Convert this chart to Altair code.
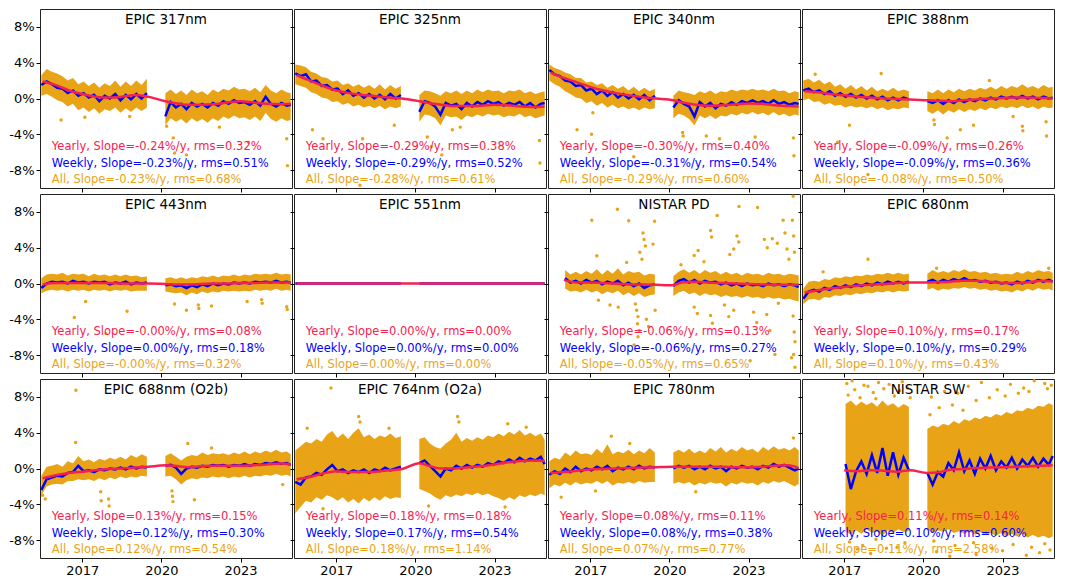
import numpy as np
import pandas as pd
import altair as alt

RED = "#f5214f"
BLUE = "#0000ff"
ORANGE = "#e9a317"
FONT = "DejaVu Sans"

# time grid (decimal years) for the weekly line and the envelope of all points
T = [2015.45, 2015.65, 2015.85, 2016.05, 2016.25, 2016.45, 2016.65, 2016.85, 2017.05, 2017.25, 2017.45,
     2017.65, 2017.85, 2018.05, 2018.25, 2018.45, 2018.65, 2018.85, 2019.05, 2019.25, 2019.45,
     2020.15, 2020.35, 2020.55, 2020.75, 2020.95, 2021.15, 2021.35, 2021.55, 2021.75, 2021.95, 2022.15,
     2022.35, 2022.55, 2022.75, 2022.95, 2023.15, 2023.35, 2023.55, 2023.75, 2023.95, 2024.15, 2024.35,
     2024.55, 2024.75, 2024.9]
# time grid for the yearly curve
T_YR = [2015.5, 2016.0, 2016.5, 2017.0, 2017.5, 2018.0, 2018.5, 2019.0, 2019.5, 2020.15,
        2020.5, 2021.0, 2021.5, 2022.0, 2022.5, 2023.0, 2023.5, 2024.0, 2024.5, 2024.9]

# ---- EPIC 317nm
wk_317 = [1.5, 1.9, 1.6, 1.2, 1.1, 0.6, 0.9, 0.3, 0.6, 0.1, 0.4, -0.3, 0.3, 0.0, 0.5, -0.2, 0.4, -0.1, 0.5, 0.0, 0.6,
          -2.0, -0.4, -1.0, -0.6, -1.2, -0.5, -0.9, -0.6, -1.0, -0.5, -0.8, -0.3, -0.6, -0.2, -0.5, -0.4, -0.7, -0.3, -0.8, 0.2, -0.6, -0.9, -0.5, -0.8, -0.7]
hi_317 = [2.6, 3.3, 3.0, 2.8, 2.5, 2.0, 2.3, 1.6, 1.9, 1.4, 1.8, 1.2, 1.7, 1.4, 2.0, 1.3, 1.9, 1.4, 2.0, 1.5, 2.2,
          0.6, 1.0, 0.5, 0.9, 0.4, 1.0, 0.6, 0.8, 0.4, 1.0, 0.7, 1.1, 0.9, 1.3, 1.0, 1.1, 0.8, 1.2, 0.7, 1.5, 0.9, 0.6, 1.0, 0.7, 0.6]
lo_317 = [0.3, 0.5, 0.2, -0.2, -0.4, -0.9, -0.6, -1.3, -1.0, -1.5, -1.1, -1.7, -1.2, -1.4, -1.0, -1.6, -1.1, -1.5, -1.0, -1.4, -1.0,
          -3.0, -2.2, -2.6, -2.3, -2.8, -2.2, -2.6, -2.3, -2.7, -2.2, -2.5, -2.0, -2.3, -1.9, -2.2, -2.1, -2.4, -2.0, -2.5, -1.6, -2.3, -2.6, -2.2, -2.5, -2.4]
yr_317 = [1.9, 1.5, 0.9, 0.5, 0.2, 0.1, 0.2, 0.4, 0.2, -0.3, -0.5, -0.7, -0.7, -0.65, -0.45, -0.3, -0.45, -0.6, -0.65, -0.6]
ot_317 = [2016.2, 2017.1, 2018.8, 2020.2, 2020.45, 2020.5, 2020.95, 2023.3, 2023.35, 2024.75, 2024.78, 2022.2]
ov_317 = [-2.4, -2.1, -2.0, -3.1, -4.4, -6.1, -6.3, -4.9, -2.1, -4.5, -7.5, -3.2]

# ---- EPIC 325nm
wk_325 = [2.8, 2.5, 2.7, 1.9, 2.0, 1.4, 1.5, 1.0, 1.1, 0.5, 0.9, 0.3, 0.6, 0.1, 0.5, 0.0, 0.4, -0.1, 0.5, 0.0, 0.4,
          -1.5, -0.3, -0.5, -0.9, -1.8, -0.5, -0.8, -0.6, -1.2, -0.5, -0.9, -0.4, -0.7, -0.3, -0.6, -0.4, -0.8, -0.5, -0.7, -0.4, -0.9, -0.5, -1.0, -0.6, -0.5]
hi_325 = [3.8, 3.7, 3.5, 3.0, 2.8, 2.4, 2.3, 1.9, 2.0, 1.5, 1.7, 1.3, 1.6, 1.2, 1.5, 1.1, 1.6, 1.0, 1.5, 1.1, 1.4,
          0.4, 0.9, 0.8, 0.6, 0.3, 0.8, 0.6, 0.9, 0.5, 0.9, 0.6, 1.0, 0.7, 1.0, 0.8, 0.9, 0.6, 0.9, 0.8, 1.0, 0.6, 0.8, 0.5, 0.7, 0.8]
lo_325 = [1.6, 1.4, 1.2, 0.7, 0.5, 0.1, 0.0, -0.4, -0.3, -0.7, -0.5, -0.9, -0.7, -1.0, -0.8, -1.1, -0.8, -1.2, -0.9, -1.1, -0.9,
          -2.6, -1.8, -1.9, -2.2, -3.0, -1.9, -2.1, -2.0, -2.4, -1.9, -2.1, -1.8, -2.0, -1.7, -1.9, -1.8, -2.1, -1.9, -2.0, -1.7, -2.1, -1.9, -2.2, -2.0, -1.9]
yr_325 = [2.6, 2.0, 1.4, 0.9, 0.6, 0.4, 0.25, 0.1, 0.0, -0.3, -0.5, -0.7, -0.85, -0.85, -0.8, -0.7, -0.75, -0.9, -0.95, -0.9]
ot_325 = [2016.1, 2016.5, 2017.9, 2020.45, 2020.6, 2021.0, 2021.4, 2021.7, 2024.7, 2024.72, 2018.0, 2019.2]
ov_325 = [-3.5, -4.5, -9.7, -4.3, -5.4, -6.3, -3.5, -3.2, -4.7, -7.2, -4.5, -3.0]

# ---- EPIC 340nm
wk_340 = [3.2, 2.7, 2.5, 2.0, 1.9, 1.4, 1.5, 0.9, 1.1, 0.5, 0.9, 0.3, 0.7, 0.1, 0.5, 0.0, 0.4, -0.1, 0.4, -0.2, 0.3,
          -1.0, -0.2, -0.6, -0.9, -2.0, -0.4, -0.9, -0.5, -1.1, -0.6, -0.8, -0.4, -0.7, -0.3, -0.5, -0.2, -0.5, -0.3, -0.6, -0.2, -0.6, -0.4, -0.7, -0.5, -0.6]
hi_340 = [3.8, 3.4, 3.2, 2.9, 2.7, 2.3, 2.3, 1.8, 1.9, 1.5, 1.7, 1.2, 1.5, 1.1, 1.4, 0.9, 1.3, 0.8, 1.2, 0.8, 1.1,
          0.3, 0.9, 0.7, 0.6, 0.4, 0.8, 0.6, 0.9, 0.5, 0.8, 0.7, 1.0, 0.8, 1.0, 0.9, 1.1, 0.9, 1.0, 0.8, 1.1, 0.8, 0.9, 0.6, 0.8, 0.7]
lo_340 = [2.0, 1.6, 1.3, 0.8, 0.5, 0.1, 0.0, -0.5, -0.3, -0.8, -0.5, -1.0, -0.7, -1.1, -0.9, -1.2, -1.0, -1.3, -1.0, -1.2, -1.1,
          -2.2, -1.7, -1.9, -2.3, -3.0, -1.9, -2.2, -1.9, -2.3, -1.9, -2.0, -1.7, -1.9, -1.6, -1.8, -1.5, -1.8, -1.6, -1.9, -1.5, -1.9, -1.7, -2.0, -1.8, -1.9]
yr_340 = [2.9, 2.3, 1.8, 1.3, 0.9, 0.6, 0.35, 0.15, 0.0, -0.2, -0.45, -0.7, -0.8, -0.75, -0.65, -0.55, -0.6, -0.75, -0.85, -0.9]
ot_340 = [2017.1, 2017.05, 2020.5, 2020.52, 2021.4, 2021.9, 2023.25, 2024.7, 2024.72, 2018.65, 2016.5]
ov_340 = [-1.6, -4.0, -3.8, -4.2, -4.2, -4.5, -4.3, -4.4, -6.4, -6.5, -3.5]

# ---- EPIC 388nm
wk_388 = [0.9, 1.1, 0.7, 0.9, 0.5, 0.8, 0.3, 0.6, 0.2, 0.5, 0.1, 0.4, 0.0, 0.3, -0.1, 0.2, -0.2, 0.1, -0.2, 0.1, -0.1,
          -0.3, -0.5, -0.2, -0.6, -0.2, -0.5, -0.1, -0.4, -0.1, -0.3, 0.0, -0.2, 0.1, -0.1, 0.2, 0.0, 0.2, 0.0, 0.3, 0.0, 0.2, -0.1, 0.2, 0.0, 0.1]
hi_388 = [2.0, 2.2, 1.8, 2.1, 1.6, 1.9, 1.3, 1.6, 1.1, 1.5, 1.0, 1.4, 0.9, 1.3, 0.8, 1.1, 0.8, 1.2, 0.8, 1.0, 0.8,
          0.8, 0.6, 1.0, 0.6, 1.0, 0.7, 1.1, 0.8, 1.1, 0.9, 1.2, 1.0, 1.3, 1.0, 1.4, 1.1, 1.4, 1.2, 1.6, 1.2, 1.4, 1.1, 1.5, 1.2, 1.3]
lo_388 = [-0.2, 0.0, -0.4, -0.3, -0.7, -0.5, -0.8, -0.7, -1.0, -0.8, -1.0, -0.9, -1.1, -0.9, -1.2, -1.0, -1.3, -1.1, -1.2, -1.0, -1.1,
          -1.4, -1.7, -1.3, -1.8, -1.3, -1.6, -1.2, -1.5, -1.2, -1.4, -1.1, -1.3, -1.0, -1.2, -0.9, -1.1, -0.9, -1.1, -0.8, -1.1, -0.9, -1.2, -0.9, -1.1, -1.0]
yr_388 = [0.8, 0.7, 0.5, 0.35, 0.2, 0.1, 0.0, -0.05, -0.1, -0.2, -0.25, -0.3, -0.2, -0.1, 0.0, 0.05, 0.1, 0.1, 0.05, 0.0]
ot_388 = [2015.9, 2018.4, 2017.2, 2016.75, 2020.4, 2020.42, 2020.9, 2021.4, 2021.9, 2023.4, 2023.75, 2023.77, 2024.65, 2024.67, 2017.9, 2022.5]
ov_388 = [2.7, 2.8, -3.0, -4.9, -2.4, -2.9, -4.4, -3.5, -3.0, -2.0, -3.1, -3.6, -2.6, -4.2, -8.5, 2.0]

# ---- EPIC 443nm
wk_443 = [-0.5, 0.0, 0.2, 0.1, 0.2, 0.0, 0.3, 0.1, 0.2, 0.0, 0.2, 0.1, 0.2, -0.1, 0.1, 0.0, 0.2, -0.1, 0.1, 0.0, 0.1,
          -0.2, -0.1, -0.3, -0.2, -0.5, -0.2, -0.4, -0.1, -0.3, 0.0, -0.2, 0.0, -0.1, 0.1, 0.0, 0.1, 0.0, 0.2, 0.1, 0.2, 0.1, 0.3, 0.1, 0.2, 0.1]
hi_443 = [0.6, 1.0, 1.1, 1.0, 1.2, 0.9, 1.1, 1.0, 1.1, 0.8, 1.1, 0.9, 1.0, 0.8, 1.0, 0.8, 1.0, 0.8, 0.9, 0.7, 0.8,
          0.6, 0.7, 0.5, 0.7, 0.5, 0.7, 0.6, 0.8, 0.7, 0.9, 0.7, 0.9, 0.8, 1.0, 0.8, 1.0, 0.9, 1.1, 1.0, 1.1, 1.0, 1.2, 1.0, 1.1, 1.0]
lo_443 = [-1.1, -0.8, -0.7, -0.8, -0.7, -0.9, -0.7, -0.8, -0.7, -0.9, -0.7, -0.8, -0.7, -0.9, -0.7, -0.8, -0.7, -0.9, -0.8, -0.8, -0.8,
          -0.9, -1.0, -1.1, -1.0, -1.3, -1.0, -1.2, -0.9, -1.1, -0.9, -1.0, -0.8, -0.9, -0.8, -0.9, -0.8, -0.9, -0.7, -0.8, -0.7, -0.8, -0.6, -0.8, -0.7, -0.8]
yr_443 = [-0.1, 0.05, 0.05, 0.05, 0.05, 0.05, 0.0, 0.0, 0.0, -0.05, -0.1, -0.1, -0.05, 0.0, 0.0, 0.05, 0.05, 0.1, 0.1, 0.1]
ot_443 = [2017.13, 2016.7, 2018.7, 2020.5, 2020.95, 2021.4, 2021.42, 2021.9, 2023.25, 2023.8, 2023.82, 2024.75, 2024.77, 2017.9]
ov_443 = [-2.0, -3.8, -3.1, -2.3, -3.0, -2.4, -2.8, -2.5, -2.0, -1.8, -2.2, -2.6, -2.9, -5.6]

# ---- EPIC 551nm (reference channel, identically zero)
zero_551 = [0.0, 0.0, 0.0, 0.0, 0.0, 0.0, 0.0, 0.0, 0.0, 0.0, 0.0, 0.0, 0.0, 0.0, 0.0, 0.0, 0.0, 0.0, 0.0, 0.0, 0.0,
            0.0, 0.0, 0.0, 0.0, 0.0, 0.0, 0.0, 0.0, 0.0, 0.0, 0.0, 0.0, 0.0, 0.0, 0.0, 0.0, 0.0, 0.0, 0.0, 0.0, 0.0, 0.0, 0.0, 0.0, 0.0]
yr_551 = [0.0, 0.0, 0.0, 0.0, 0.0, 0.0, 0.0, 0.0, 0.0, 0.0, 0.0, 0.0, 0.0, 0.0, 0.0, 0.0, 0.0, 0.0, 0.0, 0.0]

# ---- NISTAR PD
wk_pd = [None, None, None, 0.6, 0.1, 0.3, 0.0, 0.4, 0.1, 0.3, -0.1, 0.2, 0.0, 0.3, -0.2, 0.1, -0.3, 0.0, -0.5, -0.2, -0.1,
         -0.3, 0.3, 0.5, 0.1, 0.4, 0.0, 0.3, 0.1, 0.2, -0.1, 0.1, -0.2, 0.0, -0.3, 0.0, -0.2, -0.1, -0.3, 0.0, -0.2, -0.1, -0.3, -0.1, -0.2, -0.4]
hi_pd = [None, None, None, 1.5, 1.0, 1.3, 1.0, 1.4, 1.1, 1.6, 1.0, 1.5, 1.1, 1.7, 1.0, 1.4, 1.2, 1.3, 0.9, 1.1, 1.0,
         0.8, 1.3, 1.6, 1.2, 1.5, 1.1, 1.5, 1.2, 1.4, 1.0, 1.3, 1.0, 1.2, 0.9, 1.2, 1.0, 1.1, 0.9, 1.2, 1.0, 1.1, 0.9, 1.1, 1.0, 0.9]
lo_pd = [None, None, None, -0.6, -0.9, -0.8, -1.0, -0.7, -1.0, -0.8, -1.2, -0.9, -1.1, -0.8, -1.3, -1.0, -1.4, -1.1, -1.5, -1.3, -1.2,
         -1.4, -1.0, -0.8, -1.2, -1.0, -1.4, -1.1, -1.3, -1.2, -1.5, -1.3, -1.5, -1.4, -1.6, -1.4, -1.6, -1.5, -1.7, -1.5, -1.7, -1.6, -1.8, -1.7, -1.9, -2.0]
yr_pd = [None, 0.4, 0.1, 0.1, 0.05, 0.0, -0.1, -0.1, -0.15, -0.2, 0.15, 0.2, 0.1, 0.05, 0.0, -0.05, -0.1, -0.15, -0.15, -0.15]
ot_pd = [2017.06, 2018.03, 2018.46, 2019.44, 2019.0, 2019.04, 2019.09, 2018.88, 2018.96, 2019.38, 2017.25, 2018.38,
         2017.31, 2017.75, 2018.06, 2018.71, 2018.76, 2018.81, 2018.79, 2018.86, 2018.81, 2018.66, 2019.13, 2019.21, 2019.46,
         2021.56, 2021.6, 2021.81, 2022.64, 2023.34, 2022.56, 2022.63, 2022.44, 2022.29, 2020.94, 2021.09, 2021.31,
         2023.6, 2023.71, 2023.9, 2024.09, 2024.31, 2024.38, 2024.46, 2024.53, 2024.69, 2024.66, 2024.71, 2024.74,
         2024.69, 2024.73, 2024.76, 2024.71, 2024.76, 2024.63, 2020.94, 2021.06, 2021.56, 2021.63, 2022.09, 2022.25,
         2022.44, 2023.19, 2023.31, 2023.69, 2023.81, 2024.0, 2023.06, 2024.13, 2020.44]
ov_pd = [7.07, 8.3, 7.0, 6.96, 5.64, 4.93, 4.2, 3.5, 2.7, 4.4, 3.1, 2.36,
         -1.86, -2.4, -2.64, -2.3, -3.0, -3.7, -4.5, -5.25, -5.96, -6.86, -4.0, -4.8, -3.0,
         5.93, 5.2, 7.6, 8.6, 8.5, 5.3, 4.64, 3.86, 3.25, 3.14, 3.68, 2.43,
         4.93, 4.0, 5.0, 4.5, 7.07, 5.64, 3.86, 2.7, 9.75, 7.07, 5.3, 3.5,
         -3.64, -5.43, -6.5, -7.93, -9.36, -8.3, -2.64, -3.36, -3.57, -4.43, -2.4, -3.7,
         -3.0, -3.2, -4.36, -3.46, -5.25, -7.93, -8.64, -2.2, 2.1]

# ---- EPIC 680nm
wk_680 = [-1.7, -0.9, -0.7, -0.9, -0.5, -0.7, -0.3, -0.5, -0.2, -0.4, -0.1, -0.3, 0.0, -0.2, 0.1, -0.1, 0.2, 0.0, 0.2, 0.0, 0.2,
          0.2, 0.4, 0.1, 0.4, 0.2, 0.5, 0.3, 0.6, 0.3, 0.4, 0.2, 0.3, 0.1, 0.2, 0.0, 0.1, -0.1, 0.2, 0.0, 0.3, 0.1, 0.4, 0.2, 0.4, 0.2]
hi_680 = [-0.6, 0.2, 0.3, 0.2, 0.5, 0.4, 0.7, 0.6, 0.8, 0.7, 0.9, 0.8, 1.0, 0.9, 1.1, 1.0, 1.2, 1.0, 1.2, 1.0, 1.1,
          1.1, 1.5, 1.2, 1.4, 1.2, 1.5, 1.3, 1.6, 1.3, 1.4, 1.2, 1.3, 1.1, 1.2, 1.0, 1.1, 1.0, 1.3, 1.1, 1.4, 1.2, 1.5, 1.3, 1.4, 1.2]
lo_680 = [-2.3, -1.8, -1.7, -1.9, -1.5, -1.6, -1.3, -1.4, -1.2, -1.3, -1.1, -1.2, -1.0, -1.1, -0.9, -1.0, -0.8, -1.0, -0.8, -0.9, -0.8,
          -0.7, -0.5, -0.8, -0.6, -0.7, -0.5, -0.6, -0.4, -0.6, -0.5, -0.7, -0.6, -0.8, -0.7, -0.9, -0.8, -1.0, -0.7, -0.9, -0.6, -0.8, -0.5, -0.7, -0.6, -0.8]
yr_680 = [-1.0, -0.75, -0.55, -0.4, -0.25, -0.15, -0.05, 0.05, 0.1, 0.1, 0.15, 0.2, 0.3, 0.3, 0.2, 0.05, 0.05, 0.15, 0.3, 0.2]
ot_680 = [2017.9, 2020.5, 2024.75, 2016.2]
ov_680 = [2.7, 1.7, 1.7, 1.3]

# ---- EPIC 688nm (O2b)
wk_688 = [-2.4, -1.2, -1.0, -0.8, -0.9, -0.5, -0.4, 0.3, -0.3, -0.2, -0.4, -0.1, -0.2, 0.0, -0.1, 0.1, -0.1, 0.2, 0.0, 0.2, 0.1,
          0.3, 0.4, 0.1, -0.6, 0.0, 0.2, 0.1, 0.3, 0.2, 0.4, 0.3, 0.4, 0.2, 0.4, 0.3, 0.5, 0.3, 0.5, 0.4, 0.6, 0.5, 0.7, 0.5, 0.6, 0.4]
hi_688 = [-0.8, 0.2, 0.3, 0.5, 0.2, 0.8, 0.6, 1.4, 0.8, 1.0, 0.7, 1.1, 0.9, 1.2, 1.0, 1.3, 1.0, 1.5, 1.2, 1.6, 1.3,
          1.4, 1.7, 1.3, 0.9, 1.3, 1.5, 1.4, 1.8, 1.5, 1.7, 1.6, 1.7, 1.5, 1.8, 1.6, 1.9, 1.6, 1.9, 1.7, 2.0, 1.8, 2.1, 1.8, 1.9, 1.6]
lo_688 = [-3.0, -2.0, -1.8, -1.7, -1.8, -1.4, -1.4, -1.2, -1.3, -1.2, -1.4, -1.1, -1.3, -1.0, -1.2, -0.9, -1.1, -0.9, -1.0, -0.8, -0.9,
          -0.9, -0.8, -1.2, -1.8, -1.3, -1.1, -1.2, -1.0, -1.1, -0.9, -1.0, -0.9, -1.1, -0.9, -1.0, -0.8, -1.0, -0.8, -0.9, -0.7, -0.8, -0.6, -0.8, -0.7, -0.9]
yr_688 = [-1.1, -0.75, -0.5, -0.35, -0.2, -0.05, 0.0, 0.1, 0.2, 0.35, 0.3, 0.15, 0.25, 0.3, 0.3, 0.3, 0.35, 0.45, 0.55, 0.45]
ot_688 = [2016.76, 2016.75, 2015.6, 2017.7, 2017.72, 2018.0, 2018.02, 2020.4, 2020.42, 2020.44, 2021.25, 2021.0, 2021.9, 2024.6, 2015.5]
ov_688 = [8.75, 2.9, -3.4, -2.6, -3.6, -3.4, -4.2, -2.5, -3.1, -3.7, -3.5, 2.8, 2.3, -1.8, -3.0]

# ---- EPIC 764nm (O2a)
wk_764 = [-1.5, -1.8, -1.0, -0.9, -0.5, -0.7, -0.1, 0.4, -0.3, -0.1, -0.5, -0.2, -0.4, -0.1, -0.5, -0.1, -0.3, 0.1, -0.2, 0.0, 0.2,
          0.6, 0.9, 0.3, -0.3, -0.9, 0.0, -0.2, 0.3, 0.0, 0.4, 0.1, 0.4, 0.2, 0.6, 0.4, 0.8, 0.6, 1.0, 0.7, 1.2, 0.8, 1.1, 0.9, 1.3, 0.5]
hi_764 = [2.0, 2.5, 3.0, 2.8, 3.3, 3.0, 3.8, 4.2, 3.4, 3.9, 3.3, 4.0, 4.5, 3.5, 3.8, 3.3, 3.7, 3.5, 3.9, 3.4, 3.6,
          3.3, 3.5, 2.8, 2.4, 2.2, 2.8, 3.2, 4.0, 3.0, 3.4, 3.1, 3.5, 3.2, 3.7, 3.5, 3.9, 3.6, 4.1, 3.8, 4.3, 3.7, 4.0, 3.6, 3.9, 3.2]
lo_764 = [-5.0, -4.3, -3.6, -3.8, -3.2, -3.5, -3.0, -3.2, -3.6, -3.2, -3.8, -3.4, -3.9, -3.3, -3.7, -3.2, -3.6, -3.1, -3.4, -3.2, -3.3,
          -2.3, -2.5, -2.8, -3.2, -3.5, -3.0, -3.2, -2.9, -3.1, -2.8, -3.0, -2.7, -3.0, -2.8, -3.1, -3.3, -3.6, -3.2, -3.5, -3.0, -3.2, -2.9, -3.1, -2.8, -3.0]
yr_764 = [-1.2, -0.95, -0.55, -0.3, -0.4, -0.4, -0.35, -0.2, -0.05, 0.6, 0.3, 0.0, 0.0, 0.15, 0.25, 0.45, 0.7, 0.85, 0.9, 0.85]
ot_764 = [2016.8, 2015.9, 2017.85, 2017.9, 2021.6, 2021.65, 2023.5, 2024.2, 2019.0, 2016.5, 2023.4, 2020.5]
ov_764 = [9.0, 4.5, 5.8, 5.2, 5.8, 5.2, 5.0, 4.6, 4.5, -4.5, -4.3, -4.2]

# ---- EPIC 780nm
wk_780 = [-0.7, -0.3, -0.6, 0.0, -0.4, 0.2, -0.3, 0.0, -0.2, 0.2, -0.1, 0.3, -0.3, 0.1, -0.1, 0.2, -0.1, 0.3, 0.0, 0.2, 0.1,
          0.0, 0.3, 0.1, 0.3, -0.1, 0.2, -0.1, 0.3, 0.0, 0.2, -0.3, 0.2, 0.0, 0.3, 0.1, 0.2, -0.1, 0.3, 0.1, 0.5, 0.2, 0.4, 0.1, -0.2, 0.0]
hi_780 = [0.8, 1.2, 1.0, 1.8, 1.4, 2.0, 1.6, 1.7, 1.5, 2.2, 1.7, 2.7, 1.6, 1.9, 1.7, 2.1, 1.6, 2.0, 1.7, 2.3, 1.8,
          1.8, 2.1, 1.8, 2.2, 1.7, 2.0, 1.7, 2.3, 1.9, 2.4, 1.8, 2.2, 1.9, 2.4, 2.0, 2.2, 1.8, 2.4, 2.0, 2.5, 2.1, 2.3, 2.0, 2.4, 2.0]
lo_780 = [-2.2, -1.8, -2.0, -1.6, -1.9, -1.5, -1.8, -1.6, -1.7, -1.4, -1.7, -1.4, -1.9, -1.6, -1.7, -1.5, -1.7, -1.4, -1.6, -1.5, -1.5,
          -1.7, -1.5, -1.7, -1.5, -1.9, -1.6, -1.8, -1.5, -1.7, -1.6, -2.0, -1.6, -1.8, -1.5, -1.7, -1.6, -1.9, -1.5, -1.7, -1.4, -1.6, -1.4, -1.7, -2.0, -1.7]
yr_780 = [-0.5, -0.4, -0.25, -0.1, -0.05, 0.0, 0.05, 0.1, 0.15, 0.2, 0.2, 0.2, 0.2, 0.2, 0.15, 0.15, 0.2, 0.3, 0.35, 0.05]
ot_780 = [2017.8, 2015.9, 2024.7, 2017.2, 2021.0, 2018.5]
ov_780 = [3.6, -3.2, 3.4, -2.5, -2.6, 2.8]

# ---- NISTAR SW
wk_sw = [None, None, None, None, None, None, None, None, 0.5, -2.3, -0.3, 0.8, -0.6, 1.5, -0.5, 2.3, -0.8, 1.8, -0.7, 1.2, -0.2,
         -0.5, -1.8, -0.4, -0.9, 0.6, -0.2, 1.8, -0.3, 0.9, -0.6, 1.1, 0.0, 1.4, -0.2, 0.8, 0.1, 1.2, 0.0, 1.0, 0.3, 1.2, 0.2, 1.1, 0.4, 1.4]
hi_sw = [None, None, None, None, None, None, None, None, 7.2, 7.6, 7.0, 7.5, 7.1, 7.4, 6.9, 7.6, 7.0, 7.3, 6.8, 7.2, 6.9,
         4.4, 4.8, 4.6, 5.0, 4.8, 5.3, 5.0, 5.5, 5.3, 5.7, 5.5, 5.9, 5.7, 6.1, 5.9, 6.3, 6.1, 6.5, 6.4, 6.8, 6.6, 7.0, 6.9, 7.3, 7.1]
lo_sw = [None, None, None, None, None, None, None, None, -7.0, -7.4, -6.9, -7.3, -6.8, -7.2, -7.0, -7.5, -6.9, -7.2, -6.8, -7.1, -7.0,
         -6.8, -7.2, -6.9, -7.1, -6.8, -7.2, -7.0, -7.3, -7.0, -7.4, -7.1, -7.4, -7.2, -7.5, -7.2, -7.6, -7.3, -7.6, -7.3, -7.7, -7.4, -7.7, -7.5, -7.8, -7.6]
yr_sw = [None, None, None, -0.2, -0.3, -0.2, -0.25, -0.35, -0.2, -0.5, -0.45, -0.15, -0.05, 0.05, 0.1, 0.15, 0.2, 0.25, 0.3, 0.35]
ot_sw = [2017.1, 2017.3, 2017.9, 2018.3, 2018.7, 2019.2, 2019.4, 2020.3, 2020.8, 2021.3, 2021.7, 2022.2, 2022.8, 2023.3,
         2023.8, 2024.2, 2024.6, 2024.85, 2017.5, 2018.0, 2019.0, 2020.5, 2021.0, 2022.0, 2023.0, 2023.9, 2024.4, 2024.8,
         2017.15, 2017.4, 2017.6, 2017.75, 2018.1, 2018.2, 2018.5, 2018.9, 2019.1, 2019.5, 2017.2, 2017.7, 2018.2, 2018.6,
         2019.3, 2020.25, 2020.6, 2021.1, 2021.5, 2022.0, 2022.5, 2023.1, 2023.6, 2024.0, 2024.7, 2020.4, 2021.2, 2021.9,
         2022.6, 2023.4, 2024.1, 2024.6]
ov_sw = [9.5, 9.8, 9.2, 9.6, 9.4, 9.7, 9.0, 8.0, 8.6, 8.4, 9.2, 9.6, 8.8, 9.4, 9.0, 9.8, 9.5, 9.3,
         -9.0, -9.5, -8.8, -9.3, -9.8, -9.6, -9.2, -9.7, -9.4, -9.1,
         8.2, 8.8, 7.9, 9.3, 8.5, 7.8, 8.9, 8.1, 8.7, 7.9, -8.2, -8.6, -7.9, -8.9,
         -8.3, 6.0, 6.8, 7.1, 6.5, 7.6, 7.9, 8.1, 8.4, 8.6, 8.9, -8.1, -8.6, -8.3,
         -8.9, -8.5, -8.8, -8.4]

PANELS = [
    dict(title="EPIC 317nm", lo=lo_317, hi=hi_317, wk=wk_317, yr=yr_317, ot=ot_317, ov=ov_317,
         stats=["Yearly, Slope=-0.24%/y, rms=0.32%", "Weekly, Slope=-0.23%/y, rms=0.51%", "All, Slope=-0.23%/y, rms=0.68%"]),
    dict(title="EPIC 325nm", lo=lo_325, hi=hi_325, wk=wk_325, yr=yr_325, ot=ot_325, ov=ov_325,
         stats=["Yearly, Slope=-0.29%/y, rms=0.38%", "Weekly, Slope=-0.29%/y, rms=0.52%", "All, Slope=-0.28%/y, rms=0.61%"]),
    dict(title="EPIC 340nm", lo=lo_340, hi=hi_340, wk=wk_340, yr=yr_340, ot=ot_340, ov=ov_340,
         stats=["Yearly, Slope=-0.30%/y, rms=0.40%", "Weekly, Slope=-0.31%/y, rms=0.54%", "All, Slope=-0.29%/y, rms=0.60%"]),
    dict(title="EPIC 388nm", lo=lo_388, hi=hi_388, wk=wk_388, yr=yr_388, ot=ot_388, ov=ov_388,
         stats=["Yearly, Slope=-0.09%/y, rms=0.26%", "Weekly, Slope=-0.09%/y, rms=0.36%", "All, Slope=-0.08%/y, rms=0.50%"]),
    dict(title="EPIC 443nm", lo=lo_443, hi=hi_443, wk=wk_443, yr=yr_443, ot=ot_443, ov=ov_443,
         stats=["Yearly, Slope=-0.00%/y, rms=0.08%", "Weekly, Slope=0.00%/y, rms=0.18%", "All, Slope=-0.00%/y, rms=0.32%"]),
    dict(title="EPIC 551nm", lo=zero_551, hi=zero_551, wk=zero_551, yr=yr_551, ot=[], ov=[],
         stats=["Yearly, Slope=0.00%/y, rms=0.00%", "Weekly, Slope=0.00%/y, rms=0.00%", "All, Slope=0.00%/y, rms=0.00%"]),
    dict(title="NISTAR PD", lo=lo_pd, hi=hi_pd, wk=wk_pd, yr=yr_pd, ot=ot_pd, ov=ov_pd,
         stats=["Yearly, Slope=-0.06%/y, rms=0.13%", "Weekly, Slope=-0.06%/y, rms=0.27%", "All, Slope=-0.05%/y, rms=0.65%"]),
    dict(title="EPIC 680nm", lo=lo_680, hi=hi_680, wk=wk_680, yr=yr_680, ot=ot_680, ov=ov_680,
         stats=["Yearly, Slope=0.10%/y, rms=0.17%", "Weekly, Slope=0.10%/y, rms=0.29%", "All, Slope=0.10%/y, rms=0.43%"]),
    dict(title="EPIC 688nm (O2b)", lo=lo_688, hi=hi_688, wk=wk_688, yr=yr_688, ot=ot_688, ov=ov_688,
         stats=["Yearly, Slope=0.13%/y, rms=0.15%", "Weekly, Slope=0.12%/y, rms=0.30%", "All, Slope=0.12%/y, rms=0.54%"]),
    dict(title="EPIC 764nm (O2a)", lo=lo_764, hi=hi_764, wk=wk_764, yr=yr_764, ot=ot_764, ov=ov_764,
         stats=["Yearly, Slope=0.18%/y, rms=0.18%", "Weekly, Slope=0.17%/y, rms=0.54%", "All, Slope=0.18%/y, rms=1.14%"]),
    dict(title="EPIC 780nm", lo=lo_780, hi=hi_780, wk=wk_780, yr=yr_780, ot=ot_780, ov=ov_780,
         stats=["Yearly, Slope=0.08%/y, rms=0.11%", "Weekly, Slope=0.08%/y, rms=0.38%", "All, Slope=0.07%/y, rms=0.77%"]),
    dict(title="NISTAR SW", lo=lo_sw, hi=hi_sw, wk=wk_sw, yr=yr_sw, ot=ot_sw, ov=ov_sw,
         stats=["Yearly, Slope=0.11%/y, rms=0.14%", "Weekly, Slope=0.10%/y, rms=0.60%", "All, Slope=0.11%/y, rms=2.58%"]),
]

W, H = 252, 179
XDOM = [2015.4, 2024.95]


def panel(p, row, col):
    xaxis = alt.Axis(values=[2017, 2020, 2023], format="d", title=None, labels=(row == 2))
    yaxis = alt.Axis(values=[-8, -4, 0, 4, 8], labelExpr="datum.value + '%'", title=None, labels=(col == 0))
    x = alt.X("t:Q", scale=alt.Scale(domain=XDOM, nice=False, zero=False), axis=xaxis)
    ysc = alt.Scale(domain=[-10, 10], nice=False)

    df = pd.DataFrame({"t": T, "lo": p["lo"], "hi": p["hi"], "wk": p["wk"]})
    df["seg"] = np.where(df["t"] < 2019.8, "a", "b")
    yr = pd.DataFrame({"t": T_YR, "yr": p["yr"]}).dropna()
    out = pd.DataFrame({"t": p["ot"], "v": p["ov"]})
    ttl = pd.DataFrame({"t": [sum(XDOM) / 2], "v": [8.8], "s": [p["title"]]})
    txt = pd.DataFrame({"t": [2015.85] * 3, "v": [-5.45, -7.3, -9.15], "s": p["stats"], "c": [RED, BLUE, ORANGE]})

    band = alt.Chart(df.dropna(subset=["lo", "hi"])).mark_area(color=ORANGE, opacity=1, clip=True).encode(
        x=x, y=alt.Y("lo:Q", scale=ysc, axis=yaxis), y2="hi:Q", detail="seg:N")
    dots = alt.Chart(out).mark_circle(color=ORANGE, size=12, opacity=1, clip=True).encode(
        x=x, y=alt.Y("v:Q", scale=ysc, axis=yaxis))
    weekly = alt.Chart(df.dropna(subset=["wk"])).mark_line(color=BLUE, strokeWidth=2.5, clip=True).encode(
        x=x, y=alt.Y("wk:Q", scale=ysc, axis=yaxis), detail="seg:N")
    yearly = alt.Chart(yr).mark_line(color=RED, strokeWidth=2.5, interpolate="monotone", clip=True).encode(
        x=x, y=alt.Y("yr:Q", scale=ysc, axis=yaxis))
    title = alt.Chart(ttl).mark_text(font=FONT, fontSize=13.5, color="black", baseline="middle").encode(
        x=x, y=alt.Y("v:Q", scale=ysc, axis=yaxis), text="s:N")
    stats = alt.Chart(txt).mark_text(font=FONT, fontSize=11.5, align="left", baseline="middle").encode(
        x=x, y=alt.Y("v:Q", scale=ysc, axis=yaxis), text="s:N", color=alt.Color("c:N", scale=None))

    return alt.layer(band, dots, weekly, yearly, title, stats).properties(width=W, height=H)


rows = []
for r in range(3):
    rows.append(alt.hconcat(*[panel(PANELS[r * 4 + c], r, c) for c in range(4)], spacing=2, bounds="flush"))

chart = alt.vconcat(*rows, spacing=0).properties(
    padding=0
).configure_view(
    stroke="#222222",
    strokeWidth=1
).configure_axis(
    grid=False,
    domain=False,
    ticks=True,
    tickColor="black",
    tickSize=4,
    labelFont=FONT,
    labelFontSize=13,
    labelColor="black",
    labelPadding=2
)

chart.save("out.html", embed_options={"renderer": "svg", "actions": False})
